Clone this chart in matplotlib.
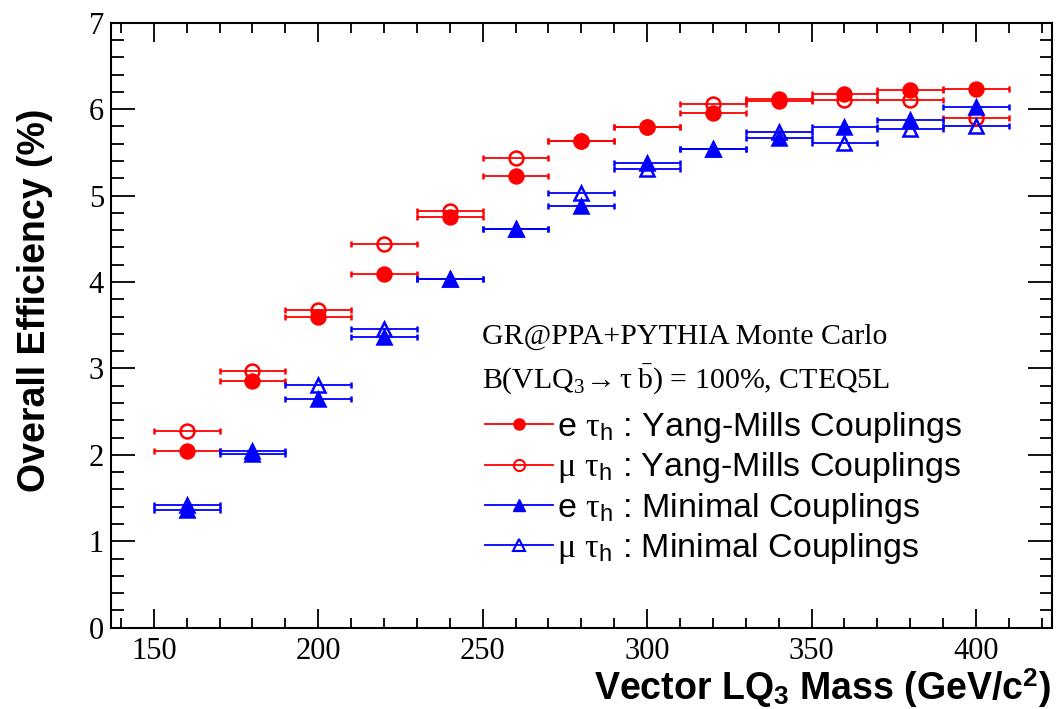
import matplotlib
matplotlib.use("Agg")
import matplotlib.pyplot as plt
from matplotlib.lines import Line2D
from matplotlib.ticker import MultipleLocator

plt.rcParams['mathtext.fontset'] = 'custom'
plt.rcParams['mathtext.rm'] = 'Liberation Serif'
plt.rcParams['mathtext.it'] = 'Liberation Serif:italic'
plt.rcParams['mathtext.bf'] = 'Liberation Sans:bold'
plt.rcParams['mathtext.sf'] = 'Liberation Sans'

# ---- data ----
mass = [160, 180, 200, 220, 240, 260, 280, 300, 320, 340, 360, 380, 400]
bin_half_width = 10
e_yang_mills = [2.05, 2.85, 3.60, 4.09, 4.75, 5.23, 5.63, 5.79, 5.95, 6.12, 6.18, 6.22, 6.23]
mu_yang_mills = [2.28, 2.97, 3.68, 4.44, 4.82, 5.43, 5.63, 5.79, 6.06, 6.09, 6.11, 6.11, 5.90]
e_minimal = [1.36, 2.01, 2.65, 3.36, 4.03, 4.61, 4.88, 5.38, 5.54, 5.67, 5.79, 5.87, 6.02]
mu_minimal = [1.42, 2.04, 2.81, 3.46, 4.03, 4.61, 5.03, 5.31, 5.54, 5.73, 5.61, 5.77, 5.81]

labels = [r"e $\mathrm{\tau}_{\mathsf{h}}$ : Yang-Mills Couplings",
          r"$\mathrm{\mu}$ $\mathrm{\tau}_{\mathsf{h}}$ : Yang-Mills Couplings",
          r"e $\mathrm{\tau}_{\mathsf{h}}$ : Minimal Couplings",
          r"$\mathrm{\mu}$ $\mathrm{\tau}_{\mathsf{h}}$ : Minimal Couplings"]

RED = (1.0, 0.0, 0.0)
BLUE = (0.0, 0.0, 1.0)

fig = plt.figure(figsize=(10.56, 7.09), dpi=100)
ax = fig.add_axes([111/1056, 1 - 627.7/709, (1051.7 - 111)/1056, (627.7 - 22.7)/709])

series = [
    (mu_yang_mills, RED, 'o', 'none', 10),
    (e_yang_mills, RED, 'o', RED, 10),
    (mu_minimal, BLUE, '^', 'none', 10),
    (e_minimal, BLUE, '^', BLUE, 10),
]
for vals, col, mk, mfc, ms in series:
    ax.errorbar(mass, vals, xerr=bin_half_width, fmt=mk, color=col, mfc=mfc,
                mec=col, mew=1.8, ms=ms, elinewidth=1.3, capsize=2.5, capthick=1.3)

ax.set_xlim(137, 423)
ax.set_ylim(0, 7)
ax.xaxis.set_major_locator(MultipleLocator(50))
ax.xaxis.set_minor_locator(MultipleLocator(10))
ax.yaxis.set_major_locator(MultipleLocator(1))
ax.yaxis.set_minor_locator(MultipleLocator(0.2))
ax.tick_params(axis='both', which='both', direction='in', top=True, right=True, width=1.3)
ax.tick_params(axis='x', which='major', length=14, pad=7)
ax.tick_params(axis='x', which='minor', length=7)
ax.tick_params(axis='y', which='major', length=17, pad=5)
ax.tick_params(axis='y', which='minor', length=9)
for sp in ax.spines.values():
    sp.set_linewidth(1.5)
for lab in ax.get_xticklabels() + ax.get_yticklabels():
    lab.set_family('Liberation Serif')
    lab.set_fontsize(22)

fig.text(1051/1056, 1 - 688/709,
         r"Vector LQ$_{\mathbf{3}}$ Mass (GeV/c$^{\mathbf{2}}$)",
         ha='right', va='center', fontsize=27, fontweight='bold', family='Liberation Sans')
fig.text(35/1056, 1 - 300/709, "Overall Efficiency (%)", rotation=90,
         ha='center', va='center', fontsize=27, fontweight='bold', family='Liberation Sans')

# header text
fig.text(482/1056, 1 - 337/709, "GR@PPA+PYTHIA Monte Carlo",
         ha='left', va='center', fontsize=21.5, family='Liberation Serif')
fig.text(482/1056, 1 - 380/709,
         r"B(VLQ$_{3}\!\rightarrow\mathrm{\tau}\;\bar{\mathrm{b}}$) = 100%, CTEQ5L",
         ha='left', va='center', fontsize=21.5, family='Liberation Serif')

handles = [
    Line2D([], [], color=RED, lw=1.3, marker='o', mfc=RED, mec=RED, ms=8),
    Line2D([], [], color=RED, lw=1.3, marker='o', mfc='none', mec=RED, ms=8, mew=1.5),
    Line2D([], [], color=BLUE, lw=1.3, marker='^', mfc=BLUE, mec=BLUE, ms=8),
    Line2D([], [], color=BLUE, lw=1.3, marker='^', mfc='none', mec=BLUE, ms=8, mew=1.5),
]
leg = ax.legend(handles, labels, loc='upper left',
                bbox_to_anchor=((485 - 111)/(1051.7 - 111), (627.7 - 410)/(627.7 - 22.7)),
                frameon=False, handlelength=2.0, handletextpad=0.12, labelspacing=0.16,
                borderaxespad=0, borderpad=0,
                prop={'family': 'Liberation Sans', 'size': 24.5})

fig.savefig("out.png", dpi=100)
